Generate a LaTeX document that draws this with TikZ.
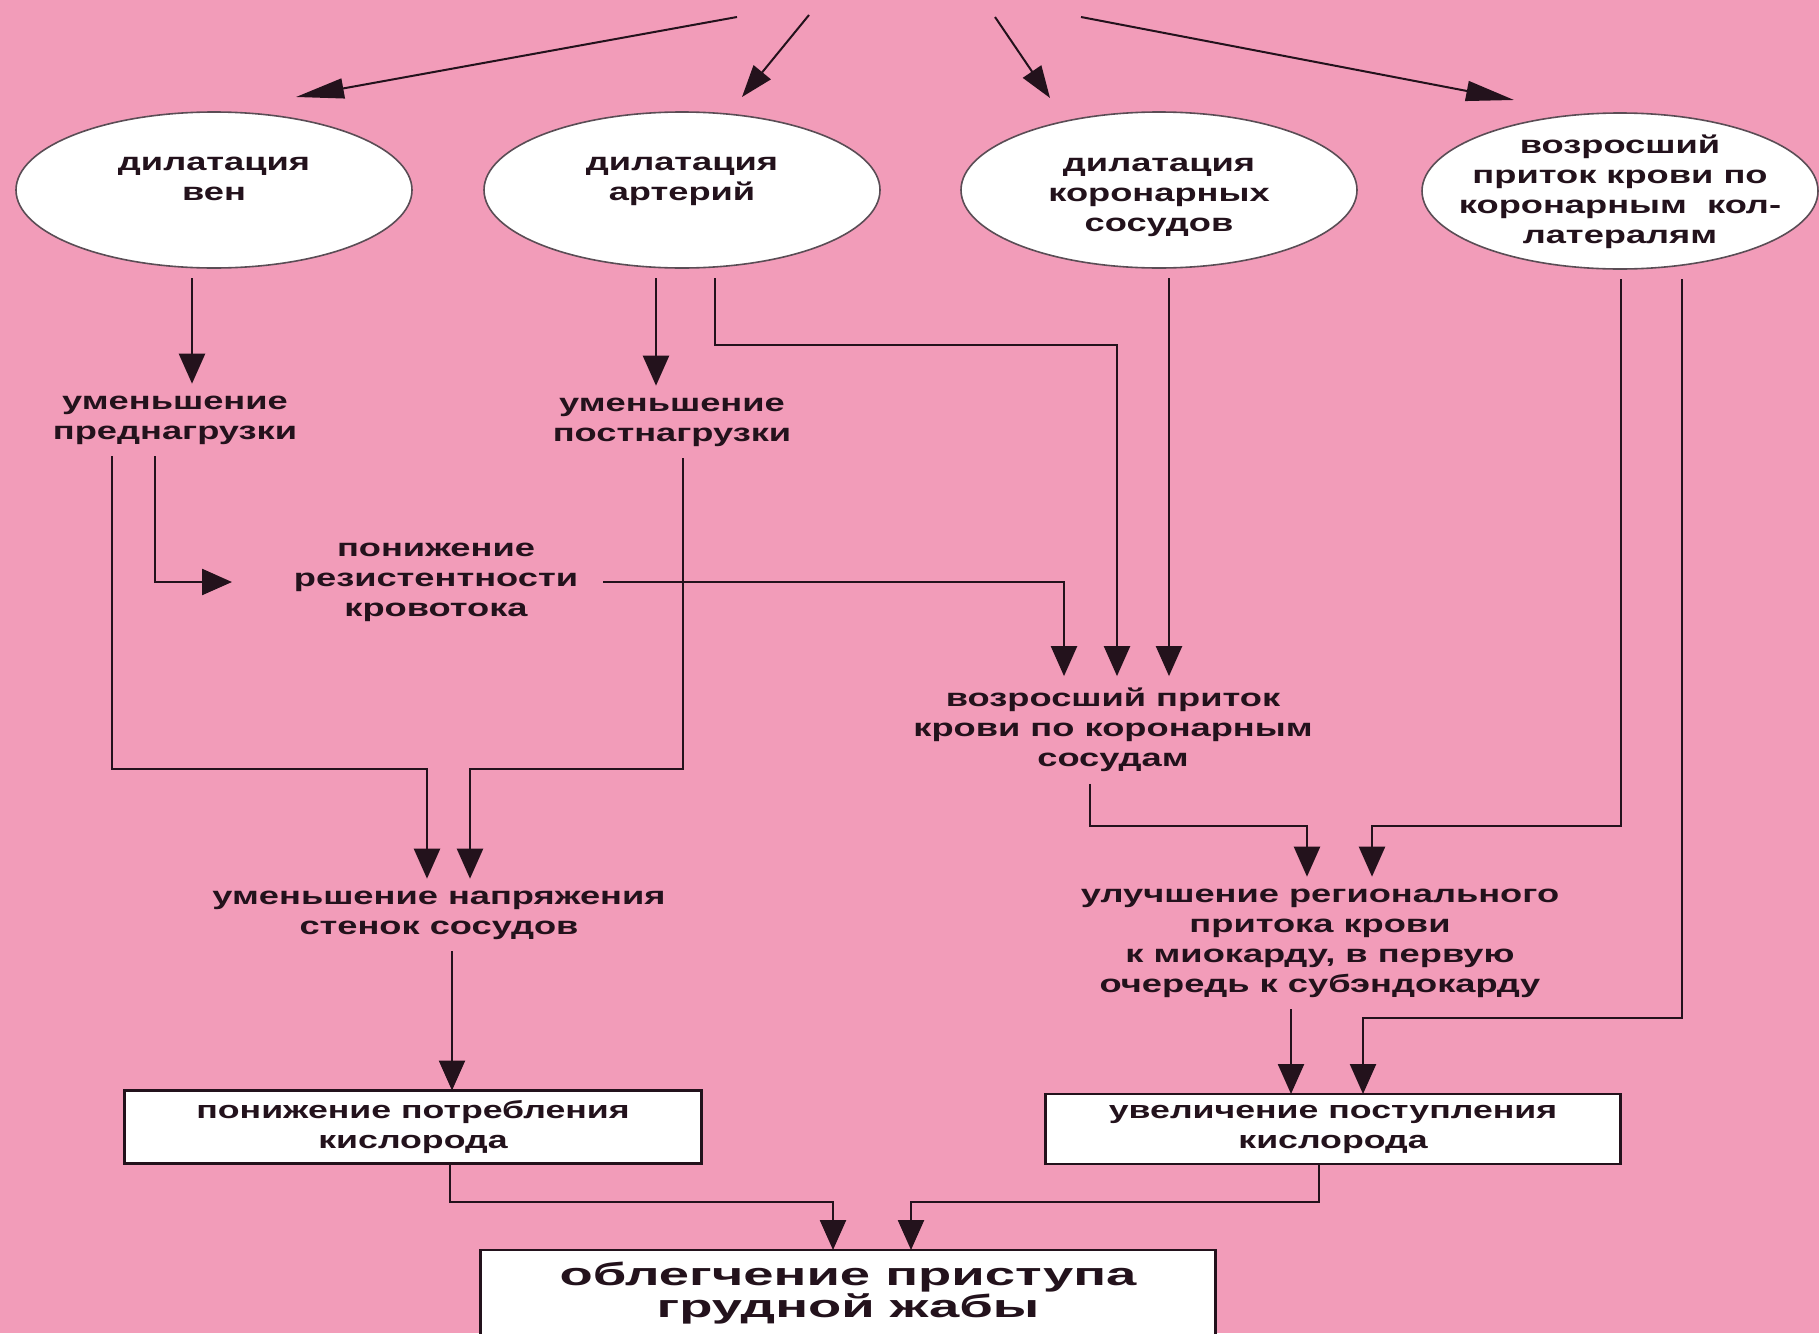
\documentclass[tikz,border=0pt]{standalone}
\usepackage{fontspec}
\setmainfont{Liberation Sans}
\newfontfamily\dfont[FakeStretch=1.45]{Liberation Sans}
\newfontfamily\bfont[FakeStretch=1.7]{Liberation Sans}
\usetikzlibrary{arrows.meta,shapes.geometric}
\definecolor{bg}{RGB}{242,156,185}
\definecolor{ink}{RGB}{35,18,28}
\begin{document}
\begin{tikzpicture}[x=0.5pt,y=-0.5pt,
  txt/.style={font=\dfont\bfseries\fontsize{12.5}{15}\selectfont, align=center, inner sep=1pt, outer sep=5pt, text=ink},
  ell/.style={ellipse, draw=ink!75, line width=0.8pt, fill=white, minimum width=198pt, minimum height=78pt, inner sep=0pt, outer sep=5pt},
  box/.style={draw=ink, line width=1.1pt, fill=white, inner sep=0pt, outer sep=0pt, font=\dfont\bfseries\fontsize{12.3}{15}\selectfont, align=center, text=ink},
  conn/.style={draw=ink, line width=1.2pt},
  arr/.style={conn, -{Triangle[length=15pt,width=13pt]}},
  arrlong/.style={conn, line width=1pt, -{Triangle[length=24pt,width=10pt]}},
  arrmid/.style={conn, line width=1pt, -{Triangle[length=16pt,width=11pt]}},
]
\fill[bg] (0,0) rectangle (1819,1333);
\useasboundingbox (0,0) rectangle (1819,1333);

% ellipses
\node[ell] (e1) at (214,190) {};
\node[ell] (e2) at (682,190) {};
\node[ell] (e3) at (1159,190) {};
\node[ell] (e4) at (1620,191) {};
\node[txt] (t1) at (214,179) {дилатация\\вен};
\node[txt] (t2) at (682,181) {дилатация\\артерий};
\node[txt] (t3) at (1159,197) {дилатация\\коронарных\\сосудов};
\node[txt] (t4) at (1620,192) {возросший\\приток крови по\\коронарным\ \ кол-\\латералям};

% top arrows from the (off-picture) source
\coordinate (s1) at (737,17);  \coordinate (a1) at (296,97);
\coordinate (s2) at (809,15);  \coordinate (a2) at (742,97);
\coordinate (s3) at (995,17);  \coordinate (a3) at (1050,98);
\coordinate (s4) at (1081,17); \coordinate (a4) at (1514,100);
\draw[arrlong] (s1) -- (a1);
\draw[arrmid] (s2) -- (a2);
\draw[arrmid] (s3) -- (a3);
\draw[arrlong] (s4) -- (a4);

% text nodes
\node[txt] (pre) at (175,420) {уменьшение\\преднагрузки};
\node[txt] (post) at (672,422) {уменьшение\\постнагрузки};
\node[txt] (res) at (436,582) {понижение\\резистентности\\кровотока};
\node[txt] (kor) at (1113,730) {возросший приток\\крови по коронарным\\сосудам};
\node[txt] (nap) at (439,915) {уменьшение напряжения\\стенок сосудов};
\node[txt] (reg) at (1320,943) {улучшение регионального\\притока крови\\к миокарду, в первую\\очередь к субэндокарду};

% boxes
\node[box, minimum width=288.5pt, minimum height=36.5pt] (b1) at (413,1127) {понижение потребления\\кислорода};
\node[box, minimum width=287.5pt, minimum height=35pt] (b2) at (1333,1129) {увеличение поступления\\кислорода};
\node[box, line width=1.3pt, minimum width=367.5pt, minimum height=43pt, font=\bfont\bfseries\fontsize{16}{16}\selectfont] (fin) at (848,1293) {облегчение приступа\\грудной жабы};

% bend points
\coordinate (k1) at (1117,345);
\coordinate (j1) at (427,769);
\coordinate (j2) at (470,769);
\coordinate (j3) at (1307,826);
\coordinate (j4) at (1372,826);
\coordinate (j5) at (1363,1018);
\coordinate (j6) at (833,1202);
\coordinate (j7) at (911,1202);

% connectors
\draw[arr] (e1.south -| 192,0) -- (pre.north -| 192,0);
\draw[arr] (e2.south -| 656,0) -- (post.north -| 656,0);
\draw[arr] (e2.south -| 715,0) |- (k1) -- (kor.north -| k1);
\draw[arr] (e3.south -| 1169,0) -- (kor.north -| 1169,0);
\draw[arr] (res.east -| 603,0) -| (kor.north -| 1064,0);
\draw[arr] (pre.south -| 155,0) |- (res.west -| 232,0);
\draw[arr] (pre.south -| 112,0) |- (j1) -- (nap.north -| j1);
\draw[arr] (post.south -| 683,0) |- (j2) -- (nap.north -| j2);
\draw[arr] (nap.south -| 452,0) -- (b1.north -| 452,0);
\draw[arr] (kor.south -| 1090,0) |- (j3) -- (reg.north -| j3);
\draw[arr] (e4.south -| 1621,0) |- (j4) -- (reg.north -| j4);
\draw[arr] (reg.south -| 1291,0) -- (b2.north -| 1291,0);
\draw[arr] (e4.south -| 1682,0) |- (j5) -- (b2.north -| j5);
\draw[arr] (b1.south -| 450,0) |- (j6) -- (fin.north -| j6);
\draw[arr] (b2.south -| 1319,0) |- (j7) -- (fin.north -| j7);
\end{tikzpicture}
\end{document}
